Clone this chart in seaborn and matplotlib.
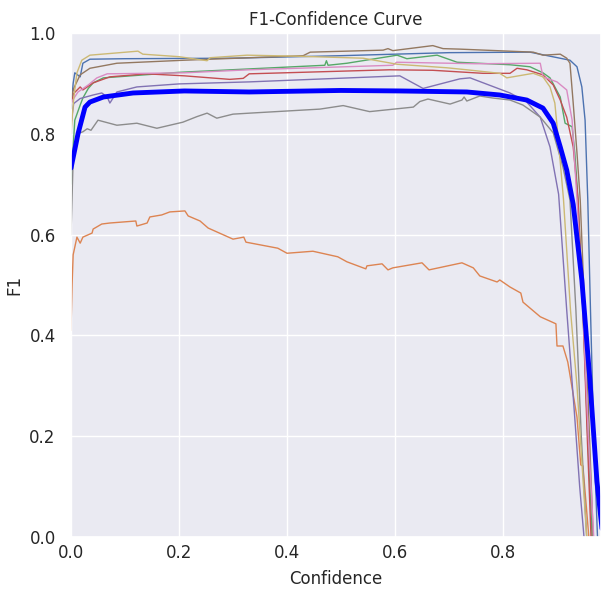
import matplotlib
matplotlib.use("Agg")
import matplotlib.pyplot as plt
import seaborn as sns
import pandas as pd

# ---- data ----
blue_x = [0.0, 0.004, 0.007, 0.017, 0.022, 0.035, 0.1, 0.3, 0.5, 0.7, 0.85, 0.924, 0.937, 0.946, 0.952, 0.957, 0.962, 0.968, 0.975]
blue_y = [0.85, 0.90, 0.921, 0.913, 0.94, 0.948, 0.949, 0.950, 0.955, 0.961, 0.962, 0.946, 0.933, 0.893, 0.827, 0.669, 0.45, 0.2, 0.0]

orange_x = [0.0, 0.002, 0.004, 0.011, 0.017, 0.022, 0.039, 0.041, 0.057, 0.072, 0.12, 0.122, 0.141, 0.146, 0.168, 0.183, 0.211, 0.217, 0.239, 0.254, 0.30, 0.32, 0.324, 0.383, 0.40, 0.448, 0.494, 0.511, 0.546, 0.548, 0.576, 0.587, 0.596, 0.65, 0.663, 0.724, 0.745, 0.757, 0.789, 0.794, 0.813, 0.833, 0.837, 0.869, 0.898, 0.90, 0.911, 0.92, 0.937, 0.944, 0.948, 0.959]
orange_y = [0.41, 0.50, 0.56, 0.595, 0.583, 0.595, 0.603, 0.611, 0.621, 0.623, 0.627, 0.617, 0.623, 0.635, 0.639, 0.645, 0.647, 0.637, 0.627, 0.613, 0.591, 0.595, 0.585, 0.573, 0.563, 0.567, 0.556, 0.546, 0.532, 0.538, 0.542, 0.530, 0.534, 0.544, 0.530, 0.544, 0.534, 0.518, 0.506, 0.510, 0.496, 0.484, 0.466, 0.437, 0.423, 0.379, 0.379, 0.347, 0.238, 0.143, 0.141, 0.0]

green_x = [0.0, 0.007, 0.017, 0.022, 0.032, 0.041, 0.06, 0.2, 0.47, 0.473, 0.476, 0.511, 0.604, 0.622, 0.678, 0.715, 0.813, 0.85, 0.874, 0.887, 0.906, 0.915, 0.928, 0.933, 0.939, 0.948, 0.957, 0.965]
green_y = [0.70, 0.827, 0.857, 0.871, 0.89, 0.901, 0.911, 0.922, 0.936, 0.945, 0.936, 0.94, 0.956, 0.949, 0.956, 0.942, 0.937, 0.933, 0.921, 0.911, 0.873, 0.821, 0.814, 0.762, 0.669, 0.45, 0.2, 0.0]

red_x = [0.0, 0.005, 0.017, 0.022, 0.041, 0.072, 0.14, 0.21, 0.294, 0.319, 0.33, 0.59, 0.67, 0.763, 0.813, 0.826, 0.844, 0.874, 0.893, 0.906, 0.918, 0.93, 0.939, 0.948, 0.956, 0.963]
red_y = [0.86, 0.88, 0.893, 0.887, 0.901, 0.913, 0.919, 0.915, 0.908, 0.91, 0.919, 0.927, 0.926, 0.92, 0.92, 0.93, 0.927, 0.917, 0.897, 0.867, 0.833, 0.774, 0.669, 0.45, 0.2, 0.0]

purple_x = [0.0, 0.005, 0.017, 0.041, 0.057, 0.067, 0.072, 0.085, 0.122, 0.2, 0.33, 0.609, 0.652, 0.72, 0.739, 0.813, 0.844, 0.869, 0.887, 0.903, 0.918, 0.932, 0.942, 0.95]
purple_y = [0.82, 0.86, 0.87, 0.877, 0.881, 0.873, 0.861, 0.883, 0.893, 0.899, 0.903, 0.915, 0.89, 0.909, 0.911, 0.881, 0.863, 0.833, 0.774, 0.68, 0.45, 0.25, 0.1, 0.0]

brown_x = [0.0, 0.005, 0.017, 0.035, 0.085, 0.21, 0.43, 0.443, 0.578, 0.587, 0.596, 0.67, 0.689, 0.72, 0.856, 0.874, 0.906, 0.918, 0.924, 0.93, 0.937, 0.943, 0.955, 0.967]
brown_y = [0.87, 0.89, 0.917, 0.930, 0.940, 0.946, 0.955, 0.962, 0.966, 0.969, 0.965, 0.975, 0.969, 0.968, 0.962, 0.956, 0.958, 0.950, 0.94, 0.861, 0.762, 0.669, 0.35, 0.0]

pink_x = [0.0, 0.005, 0.013, 0.032, 0.048, 0.067, 0.21, 0.33, 0.596, 0.603, 0.75, 0.869, 0.874, 0.9, 0.918, 0.928, 0.937, 0.948, 0.958, 0.968]
pink_y = [0.86, 0.87, 0.883, 0.897, 0.911, 0.919, 0.921, 0.927, 0.936, 0.942, 0.939, 0.94, 0.913, 0.903, 0.887, 0.827, 0.669, 0.45, 0.2, 0.0]

gray_x = [0.0, 0.004, 0.011, 0.022, 0.03, 0.037, 0.05, 0.085, 0.122, 0.159, 0.207, 0.233, 0.252, 0.27, 0.30, 0.331, 0.461, 0.504, 0.553, 0.634, 0.646, 0.661, 0.702, 0.724, 0.728, 0.733, 0.757, 0.781, 0.813, 0.837, 0.869, 0.893, 0.911, 0.924, 0.935, 0.945, 0.955]
gray_y = [0.60, 0.75, 0.80, 0.804, 0.81, 0.807, 0.827, 0.817, 0.821, 0.811, 0.823, 0.834, 0.841, 0.831, 0.839, 0.841, 0.849, 0.856, 0.844, 0.853, 0.864, 0.869, 0.859, 0.867, 0.873, 0.865, 0.875, 0.871, 0.867, 0.857, 0.833, 0.802, 0.734, 0.669, 0.45, 0.2, 0.0]

olive_x = [0.0, 0.005, 0.011, 0.02, 0.035, 0.124, 0.133, 0.2, 0.252, 0.258, 0.326, 0.418, 0.541, 0.604, 0.696, 0.733, 0.794, 0.807, 0.856, 0.874, 0.887, 0.896, 0.902, 0.912, 0.925, 0.937, 0.946, 0.955]
olive_y = [0.80, 0.87, 0.921, 0.946, 0.956, 0.964, 0.958, 0.953, 0.945, 0.951, 0.956, 0.954, 0.95, 0.938, 0.931, 0.927, 0.92, 0.911, 0.92, 0.913, 0.893, 0.861, 0.794, 0.67, 0.45, 0.3, 0.15, 0.0]

mean_x = [0.0, 0.013, 0.026, 0.035, 0.06, 0.115, 0.21, 0.33, 0.5, 0.609, 0.733, 0.794, 0.844, 0.874, 0.893, 0.906, 0.918, 0.93, 0.946, 0.961, 0.974, 0.985]
mean_y = [0.732, 0.80, 0.853, 0.863, 0.873, 0.881, 0.885, 0.883, 0.886, 0.885, 0.883, 0.877, 0.867, 0.851, 0.821, 0.774, 0.728, 0.66, 0.51, 0.31, 0.11, 0.0]

x_ticks = [0.0, 0.2, 0.4, 0.6, 0.8]
y_ticks = [0.0, 0.2, 0.4, 0.6, 0.8, 1.0]

# ---- build long table ----
series = [
    ("c0", blue_x, blue_y), ("c1", orange_x, orange_y), ("c2", green_x, green_y),
    ("c3", red_x, red_y), ("c4", purple_x, purple_y), ("c5", brown_x, brown_y),
    ("c6", pink_x, pink_y), ("c7", gray_x, gray_y), ("c8", olive_x, olive_y),
]
frames = [pd.DataFrame({"Confidence": xs, "F1": ys, "cls": name}) for name, xs, ys in series]
df = pd.concat(frames, ignore_index=True)
mean_df = pd.DataFrame({"Confidence": mean_x, "F1": mean_y})

sns.set_theme(style="darkgrid")
plt.rcParams["font.family"] = ["DejaVu Sans"]

fig = plt.figure(figsize=(6.01, 5.90), dpi=100)
ax = fig.add_axes([71 / 601, 53 / 590, 530 / 601, 504 / 590])

pal = sns.color_palette("deep", 9)
sns.lineplot(data=df, x="Confidence", y="F1", hue="cls", palette=pal,
             estimator=None, sort=False, linewidth=1.0, legend=False, ax=ax)
sns.lineplot(data=mean_df, x="Confidence", y="F1", color="blue",
             estimator=None, sort=False, linewidth=3.5, ax=ax)

ax.set_xlim(0, 530 / 540)
ax.set_ylim(0, 1)
ax.set_xticks(x_ticks)
ax.set_yticks(y_ticks)
ax.set_xticklabels([f"{v:.1f}" for v in x_ticks], fontsize=12)
ax.set_yticklabels([f"{v:.1f}" for v in y_ticks], fontsize=12)
ax.tick_params(axis="x", length=0, pad=5)
ax.tick_params(axis="y", length=0, pad=11)
ax.set_xlabel("Confidence", fontsize=12, labelpad=6)
ax.set_ylabel("F1", fontsize=12, labelpad=4)
ax.set_title("F1-Confidence Curve", fontsize=12)

fig.savefig("out.png", dpi=100)
